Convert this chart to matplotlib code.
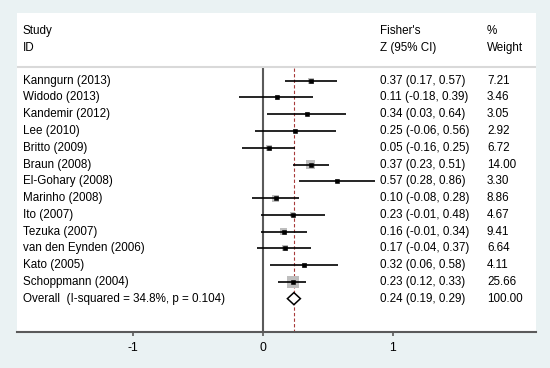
import matplotlib
matplotlib.use("Agg")
import matplotlib.pyplot as plt

studies = ["Kanngurn (2013)", "Widodo (2013)", "Kandemir (2012)", "Lee (2010)",
           "Britto (2009)", "Braun (2008)", "El-Gohary (2008)", "Marinho (2008)",
           "Ito (2007)", "Tezuka (2007)", "van den Eynden (2006)", "Kato (2005)",
           "Schoppmann (2004)"]
es = [0.37, 0.11, 0.34, 0.25, 0.05, 0.37, 0.57, 0.10, 0.23, 0.16, 0.17, 0.32, 0.23]
lo = [0.17, -0.18, 0.03, -0.06, -0.16, 0.23, 0.28, -0.08, -0.01, -0.01, -0.04, 0.06, 0.12]
hi = [0.57, 0.39, 0.64, 0.56, 0.25, 0.51, 0.86, 0.28, 0.48, 0.34, 0.37, 0.58, 0.33]
weights = [7.21, 3.46, 3.05, 2.92, 6.72, 14.00, 3.30, 8.86, 4.67, 9.41, 6.64, 4.11, 25.66]
overall_label = "Overall  (I-squared = 34.8%, p = 0.104)"
overall_es, overall_lo, overall_hi, overall_w = 0.24, 0.19, 0.29, 100.00
xticks = [-1, 0, 1]

plt.rcParams['font.family'] = ['Liberation Sans', 'DejaVu Sans']
fs = 8.4

fig = plt.figure(figsize=(5.5, 3.68), dpi=100, facecolor='#EAF2F3')
ax = fig.add_axes([16.7/550, 1 - 332/368, (536 - 16.7)/550, (332 - 13.3)/368])
ax.set_facecolor('white')
ax.set_xlim(-1.892, 2.102)
ax.set_ylim(14.99, -4.02)

n = len(studies)
rows = list(range(n))
sep_y = -0.79
ybot = 14.99

# header
x_name, x_ci, x_w = -1.846, 0.905, 1.725
ax.text(x_name, -2.96, "Study", fontsize=fs, va='center')
ax.text(x_name, -1.95, "ID", fontsize=fs, va='center')
ax.text(x_ci, -2.96, "Fisher's", fontsize=fs, va='center')
ax.text(x_ci, -1.95, "Z (95% CI)", fontsize=fs, va='center')
ax.text(x_w, -2.96, "%", fontsize=fs, va='center')
ax.text(x_w, -1.95, "Weight", fontsize=fs, va='center')
ax.axhline(sep_y, color='#D9D9D9', lw=1.5)

# reference lines
ax.vlines(0, sep_y + 0.05, ybot, color='#5A5A5A', lw=1.5, zorder=1)
ax.vlines(overall_es, sep_y + 0.05, ybot, color='#A83A3A', lw=0.8,
          linestyles=(0, (3, 2)), zorder=1)

# studies
ax.scatter(es, rows, s=[2.9 * w for w in weights], marker='s',
           color='#BEBEBE', linewidths=0, zorder=2)
ax.hlines(rows, lo, hi, color='black', lw=1.2, zorder=3)
ax.plot(es, rows, 's', color='black', ms=2.4, mew=0.4, mec='black', zorder=4)

for i in rows:
    ax.text(x_name, i, studies[i], fontsize=fs, va='center')
    ax.text(x_ci, i, f"{es[i]:.2f} ({lo[i]:.2f}, {hi[i]:.2f})", fontsize=fs, va='center')
    ax.text(x_w, i, f"{weights[i]:.2f}", fontsize=fs, va='center')

# overall diamond
yo = n
h = 0.36
ax.fill([overall_lo, overall_es, overall_hi, overall_es], [yo, yo - h, yo, yo + h],
        facecolor='white', edgecolor='black', lw=1.1, zorder=4)
ax.text(x_name, yo, overall_label, fontsize=fs, va='center')
ax.text(x_ci, yo, f"{overall_es:.2f} ({overall_lo:.2f}, {overall_hi:.2f})", fontsize=fs, va='center')
ax.text(x_w, yo, f"{overall_w:.2f}", fontsize=fs, va='center')

for s in ['top', 'right', 'left']:
    ax.spines[s].set_visible(False)
ax.spines['bottom'].set_color('#5A5A5A')
ax.spines['bottom'].set_linewidth(1.5)
ax.set_yticks([])
ax.set_xticks(xticks)
ax.set_xticklabels([str(t) for t in xticks], fontsize=fs + 0.4)
ax.tick_params(axis='x', length=3, width=1.2, color='#5A5A5A', pad=4)

fig.savefig("out.png", dpi=100, facecolor=fig.get_facecolor())
